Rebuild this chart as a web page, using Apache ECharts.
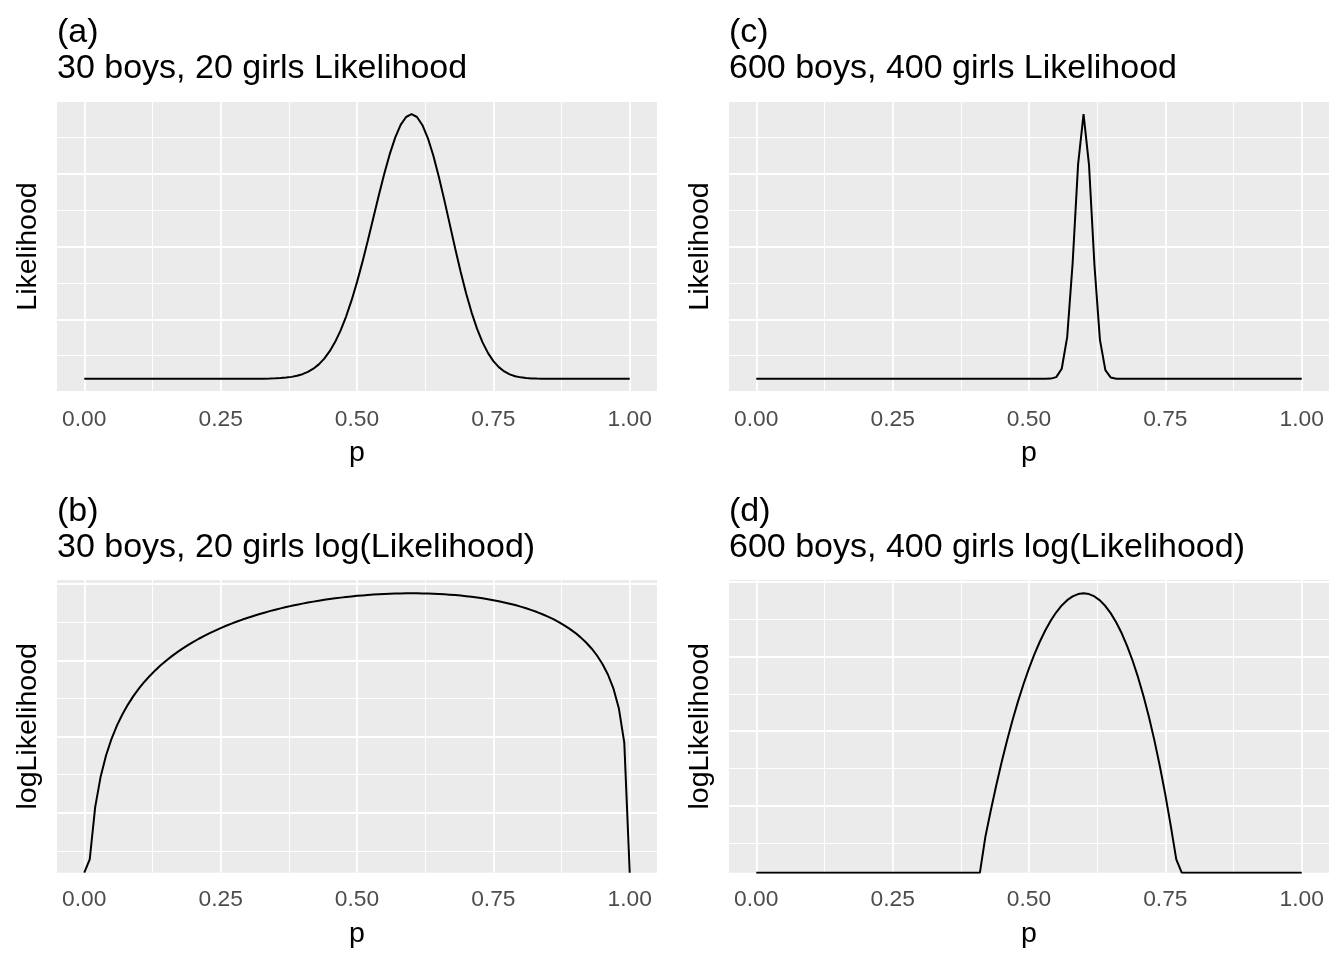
<!DOCTYPE html>
<html>
<head>
<meta charset="utf-8">
<script src="https://cdn.jsdelivr.net/npm/echarts@6/dist/echarts.min.js"></script>
<style>
html,body{margin:0;padding:0;background:#ffffff;}
#c{width:1344px;height:960px;}
</style>
</head>
<body>
<div id="c"></div>
<script>
// ---------------- data ----------------
const P_VALUES = [
  0.00,0.01,0.02,0.03,0.04,0.05,0.06,0.07,0.08,0.09,
  0.10,0.11,0.12,0.13,0.14,0.15,0.16,0.17,0.18,0.19,
  0.20,0.21,0.22,0.23,0.24,0.25,0.26,0.27,0.28,0.29,
  0.30,0.31,0.32,0.33,0.34,0.35,0.36,0.37,0.38,0.39,
  0.40,0.41,0.42,0.43,0.44,0.45,0.46,0.47,0.48,0.49,
  0.50,0.51,0.52,0.53,0.54,0.55,0.56,0.57,0.58,0.59,
  0.60,0.61,0.62,0.63,0.64,0.65,0.66,0.67,0.68,0.69,
  0.70,0.71,0.72,0.73,0.74,0.75,0.76,0.77,0.78,0.79,
  0.80,0.81,0.82,0.83,0.84,0.85,0.86,0.87,0.88,0.89,
  0.90,0.91,0.92,0.93,0.94,0.95,0.96,0.97,0.98,0.99,
  1.00
];

// (a) 30 boys, 20 girls: likelihood, in units of 1e-15
const LIK_A = [
  0,0,0,0,0,0,0,0,0,0,
  0,0,0,0,0,0,0,0,0,0,
  0,0,0,0,0,0,0,0,0,0,
  0.0002,0.0003,0.0006,0.0012,0.0022,0.0038,0.0065,0.0108,0.0174,0.0275,
  0.0422,0.0632,0.0925,0.1323,0.1851,0.2533,0.3393,0.4450,0.5718,0.7199,
  0.8881,1.0740,1.2731,1.4799,1.6861,1.8839,2.0639,2.2160,2.3324,2.4053,
  2.4307,2.4051,2.3300,2.2093,2.0485,1.8567,1.6438,1.4208,1.1973,0.9832,
  0.7859,0.6105,0.4605,0.3364,0.2379,0.1624,0.1068,0.0675,0.0409,0.0236,
  0.0130,0.0068,0.0033,0.0015,0.0006,0.0003,0,0,0,0,
  0,0,0,0,0,0,0,0,0,0,
  0
];

// (b) 30 boys, 20 girls: log(likelihood)
const LOGLIK_B = [
  -Infinity,-138.3561,-117.7648,-105.8059,-97.3827,-90.8979,-85.6398,-81.2292,-77.4394,-74.1245,
  -71.1847,-68.5489,-66.1646,-63.9918,-61.9999,-60.1640,-58.4645,-56.8853,-55.4129,-54.0363,
  -52.7460,-51.5338,-50.3930,-49.3176,-48.3022,-47.3424,-46.4343,-45.5742,-44.7590,-43.9860,
  -43.2527,-42.5568,-41.8962,-41.2694,-40.6746,-40.1104,-39.5752,-39.0683,-38.5882,-38.1341,
  -37.7052,-37.3006,-36.9195,-36.5615,-36.2258,-35.9119,-35.6196,-35.3483,-35.0976,-34.8674,
  -34.6573,-34.4673,-34.2972,-34.1467,-34.0162,-33.9053,-33.8141,-33.7430,-33.6918,-33.6610,
  -33.6506,-33.6611,-33.6928,-33.7460,-33.8216,-33.9199,-34.0416,-34.1875,-34.3586,-34.5556,
  -34.7797,-35.0322,-35.3144,-35.6280,-35.9746,-36.3564,-36.7754,-37.2344,-37.7364,-38.2847,
  -38.8831,-39.5362,-40.2495,-41.0290,-41.8822,-42.8180,-43.8470,-44.9823,-46.2403,-47.6415,
  -49.2125,-50.9882,-53.0160,-55.3623,-58.1244,-61.4534,-65.6022,-71.0450,-78.8466,-92.4049,
  -Infinity
];

// (c) 600 boys, 400 girls: likelihood, in units of 1e-293
const LIK_C = [
  0,0,0,0,0,0,0,0,0,0,
  0,0,0,0,0,0,0,0,0,0,
  0,0,0,0,0,0,0,0,0,0,
  0,0,0,0,0,0,0,0,0,0,
  0,0,0,0,0,0,0,0,0,0,
  0,0,0,0.0003,0.0035,0.0317,0.1967,0.8153,2.2701,4.2029,
  5.1851,4.1945,2.2251,0.7678,0.1693,0.0237,0.0021,0.0001,0,0,
  0,0,0,0,0,0,0,0,0,0,
  0,0,0,0,0,0,0,0,0,0,
  0,0,0,0,0,0,0,0,0,0,
  0
];

// (d) 600 boys, 400 girls: log(likelihood) (underflowed values are -Inf)
const LOGLIK_D = [
  -Infinity,-Infinity,-Infinity,-Infinity,-Infinity,-Infinity,-Infinity,-Infinity,-Infinity,-Infinity,
  -Infinity,-Infinity,-Infinity,-Infinity,-Infinity,-Infinity,-Infinity,-Infinity,-Infinity,-Infinity,
  -Infinity,-Infinity,-Infinity,-Infinity,-Infinity,-Infinity,-Infinity,-Infinity,-Infinity,-Infinity,
  -Infinity,-Infinity,-Infinity,-Infinity,-Infinity,-Infinity,-Infinity,-Infinity,-Infinity,-Infinity,
  -Infinity,-Infinity,-738.39,-731.23,-724.516,-718.238,-712.392,-706.966,-701.952,-697.348,
  -693.146,-689.346,-685.944,-682.934,-680.324,-678.106,-676.282,-674.86,-673.836,-673.22,
  -673.012,-673.222,-673.856,-674.92,-676.432,-678.398,-680.832,-683.75,-687.172,-691.112,
  -695.594,-700.644,-706.288,-712.56,-719.492,-727.128,-735.508,-744.44,-Infinity,-Infinity,
  -Infinity,-Infinity,-Infinity,-Infinity,-Infinity,-Infinity,-Infinity,-Infinity,-Infinity,-Infinity,
  -Infinity,-Infinity,-Infinity,-Infinity,-Infinity,-Infinity,-Infinity,-Infinity,-Infinity,-Infinity,
  -Infinity
];

const X_TICKS = [0, 0.25, 0.5, 0.75, 1];
const X_TICK_LABELS = ['0.00', '0.25', '0.50', '0.75', '1.00'];

// horizontal grid breaks for the log panels
const Y_MAJOR_B = [-120, -90, -60, -30];
const Y_MINOR_B = [-135, -105, -75, -45];
const Y_MAJOR_D = [-730, -710, -690, -670];
const Y_MINOR_D = [-740, -720, -700, -680];

const TITLE_LINE1 = ['(a)', '(c)', '(b)', '(d)'];
const TITLE_LINE2 = [
  '30 boys, 20 girls Likelihood',
  '600 boys, 400 girls Likelihood',
  '30 boys, 20 girls log(Likelihood)',
  '600 boys, 400 girls log(Likelihood)'
];
const Y_NAMES = ['Likelihood', 'Likelihood', 'logLikelihood', 'logLikelihood'];
const X_NAME = 'p';

// ---------------- layout / style ----------------
const FONT = "'Liberation Sans', Arial, Helvetica, sans-serif";
const PANEL_BG = '#EBEBEB';
const MAJOR_W = 1.8, MINOR_W = 1;
const PANELS = [
  { y: LIK_A,    left: 57,  top: 101, width: 600, height: 291,   majors: null,      minors: null },
  { y: LIK_C,    left: 729, top: 101, width: 600, height: 291,   majors: null,      minors: null },
  { y: LOGLIK_B, left: 57,  top: 580, width: 600, height: 292.7, majors: Y_MAJOR_B, minors: Y_MINOR_B },
  { y: LOGLIK_D, left: 729, top: 580, width: 600, height: 292.7, majors: Y_MAJOR_D, minors: Y_MINOR_D }
];
const TITLE1_OFFSET = -85.8, TITLE2_OFFSET = -49.3;

// ggplot-like 5% expansion of the finite data range
function expandRange(vals) {
  const f = vals.filter(Number.isFinite);
  const lo = Math.min.apply(null, f), hi = Math.max.apply(null, f);
  const d = (hi - lo) * 0.05;
  return [lo - d, hi + d];
}

const chart = echarts.init(document.getElementById('c'), null, { renderer: 'canvas', width: 1344, height: 960 });

const ranges = PANELS.map(pn => expandRange(pn.y));

function hiddenAxis(gridIndex, min, max) {
  return { type: 'value', gridIndex, min, max, show: false,
    axisLine: { show: false }, axisTick: { show: false }, axisLabel: { show: false }, splitLine: { show: false } };
}

function buildBase() {
  const grid = [], xAxis = [], yAxis = [], series = [], title = [];
  PANELS.forEach((pn, i) => {
    const [ylo, yhi] = ranges[i];
    grid.push({ left: pn.left, top: pn.top, width: pn.width, height: pn.height,
      show: true, backgroundColor: PANEL_BG, borderWidth: 0, borderColor: 'transparent',
      containLabel: false, outerBoundsMode: 'none' });
    xAxis.push(hiddenAxis(i, -0.05, 1.05));
    yAxis.push({ type: 'value', gridIndex: i, min: ylo, max: yhi,
      axisLine: { show: false }, axisTick: { show: false }, axisLabel: { show: false }, splitLine: { show: false },
      name: Y_NAMES[i], nameLocation: 'middle', nameRotate: 90, nameGap: 14,
      nameTextStyle: { fontFamily: FONT, fontSize: 28.5, color: '#000000' } });
    series.push({ type: 'line', xAxisIndex: i, yAxisIndex: i,
      data: P_VALUES.map((p, k) => {
        const v = pn.y[k];
        return [p, Number.isFinite(v) ? v : (v < 0 ? ylo : yhi)];
      }),
      symbol: 'none', showSymbol: false, smooth: false, clip: true, silent: true, z: 5,
      lineStyle: { color: '#000000', width: 2 } });
    title.push({ left: pn.left, top: pn.top + TITLE1_OFFSET, text: TITLE_LINE1[i], padding: 0,
      textStyle: { fontFamily: FONT, fontSize: 34, fontWeight: 'normal', color: '#000000' } });
    title.push({ left: pn.left, top: pn.top + TITLE2_OFFSET, text: TITLE_LINE2[i], padding: 0,
      textStyle: { fontFamily: FONT, fontSize: 34, fontWeight: 'normal', color: '#000000' } });
  });
  return { grid, xAxis, yAxis, series, title };
}

const base = buildBase();
chart.setOption({ animation: false, backgroundColor: '#ffffff', tooltip: { show: false },
  title: base.title, grid: base.grid, xAxis: base.xAxis, yAxis: base.yAxis, series: base.series });

// overlay grids carrying the white grid lines, positioned through the data axes
const opt = buildBase();
PANELS.forEach((pn, i) => {
  const [ylo, yhi] = ranges[i];
  let majors = pn.majors, minors = pn.minors;
  if (!majors) { // tiny-range likelihood panels: 5 equally spaced breaks over expanded range
    majors = [0, 1, 2, 3, 4].map(j => ylo + j * (yhi - ylo) / 4);
    minors = [0, 1, 2, 3].map(j => ylo + (j + 0.5) * (yhi - ylo) / 4);
  }
  const px0 = chart.convertToPixel({ xAxisIndex: i }, X_TICKS[0]);
  const px1 = chart.convertToPixel({ xAxisIndex: i }, X_TICKS[X_TICKS.length - 1]);

  // vertical lines + x labels
  let g = opt.grid.length;
  opt.grid.push({ left: px0, top: pn.top, width: px1 - px0, height: pn.height, show: false, borderWidth: 0, containLabel: false, outerBoundsMode: 'none' });
  opt.xAxis.push({ type: 'value', gridIndex: g, min: X_TICKS[0], max: X_TICKS[X_TICKS.length - 1], interval: X_TICKS[1] - X_TICKS[0],
    axisLine: { show: false }, axisTick: { show: false },
    axisLabel: { show: true, margin: 16, fontFamily: FONT, fontSize: 22.8, color: '#4D4D4D', showMinLabel: true, showMaxLabel: true,
      hideOverlap: false,
      formatter: v => { const idx = X_TICKS.findIndex(t => Math.abs(t - v) < 1e-9); return idx >= 0 ? X_TICK_LABELS[idx] : ''; } },
    splitLine: { show: true, lineStyle: { color: '#ffffff', width: MAJOR_W } },
    minorTick: { show: false, splitNumber: 2 },
    minorSplitLine: { show: true, lineStyle: { color: '#ffffff', width: MINOR_W } },
    name: X_NAME, nameLocation: 'middle', nameGap: 47,
    nameTextStyle: { fontFamily: FONT, fontSize: 28.5, color: '#000000' } });
  opt.yAxis.push(hiddenAxis(g, 0, 1));

  // horizontal lines (major / minor)
  [[majors, MAJOR_W], [minors, MINOR_W]].forEach(([vals, w]) => {
    const sorted = vals.slice().sort((a, b) => a - b);
    const pyLow = chart.convertToPixel({ yAxisIndex: i }, sorted[0]);
    const pyHigh = chart.convertToPixel({ yAxisIndex: i }, sorted[sorted.length - 1]);
    const gg = opt.grid.length;
    opt.grid.push({ left: pn.left, top: pyHigh, width: pn.width, height: pyLow - pyHigh, show: false, borderWidth: 0, containLabel: false, outerBoundsMode: 'none' });
    opt.xAxis.push(hiddenAxis(gg, 0, 1));
    opt.yAxis.push({ type: 'value', gridIndex: gg, min: 0, max: sorted.length - 1, interval: 1,
      axisLine: { show: false }, axisTick: { show: false }, axisLabel: { show: false },
      splitLine: { show: true, lineStyle: { color: '#ffffff', width: w } } });
  });
});

chart.setOption({ animation: false, backgroundColor: '#ffffff', tooltip: { show: false },
  title: opt.title, grid: opt.grid, xAxis: opt.xAxis, yAxis: opt.yAxis, series: opt.series }, true);
</script>
</body>
</html>
